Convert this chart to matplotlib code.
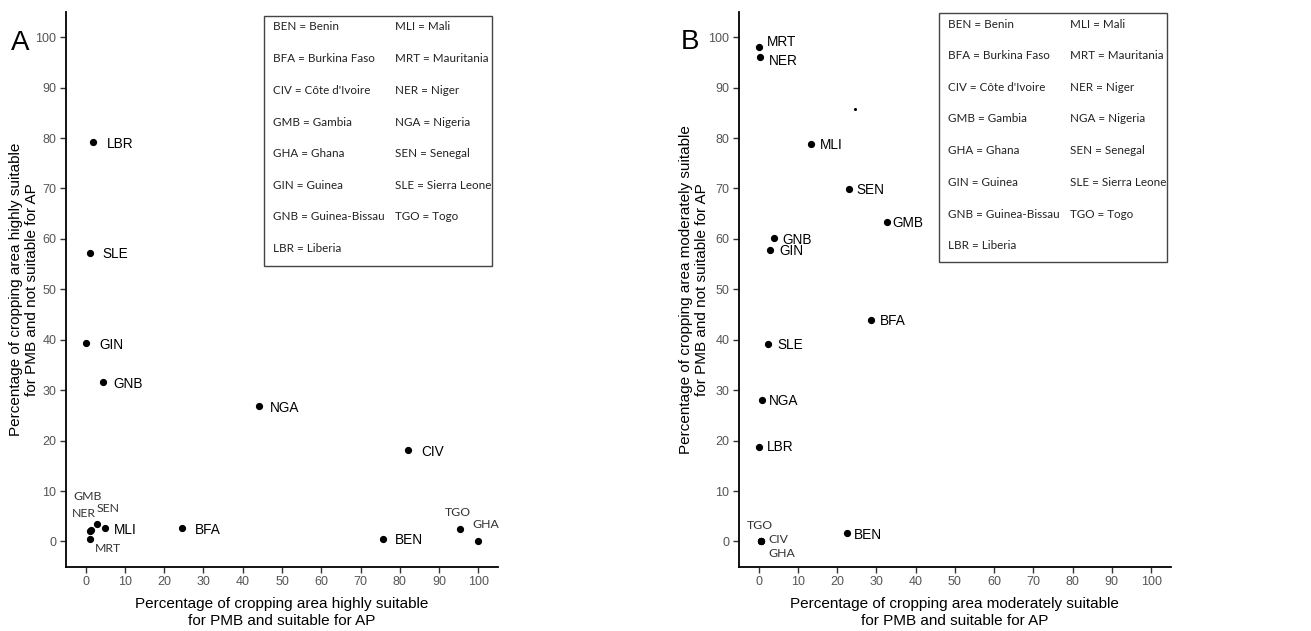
import numpy as np
import matplotlib
matplotlib.use('Agg')
import matplotlib.pyplot as plt

# ---- data ----
codes_a = ["LBR", "SLE", "GIN", "GNB", "NGA", "CIV", "BFA", "BEN", "TGO", "GHA",
           "GMB", "NER", "SEN", "MLI", "MRT"]
x_a = [2.0, 1.0, 0.1, 4.3, 44.2, 82.0, 24.6, 75.7, 95.2, 100.0, 1.3, 1.1, 3.0, 5.0, 1.0]
y_a = [79.2, 57.3, 39.3, 31.6, 26.8, 18.1, 2.6, 0.5, 2.4, 0.0, 2.3, 2.0, 3.4, 2.6, 0.5]

codes_b = ["MRT", "NER", "MLI", "SEN", "GMB", "GNB", "GIN", "BFA", "SLE", "NGA",
           "LBR", "BEN", "TGO", "CIV", "GHA"]
x_b = [0.0, 0.4, 13.4, 23.0, 32.7, 4.0, 3.0, 28.7, 2.5, 0.8, 0.0, 22.4, 0.6, 0.6, 0.6]
y_b = [98.0, 96.0, 78.8, 69.9, 63.4, 60.1, 57.9, 44.0, 39.2, 28.0, 18.8, 1.6, 0.1, 0.1, 0.1]
stray_b = (24.5, 85.8)

key_col1 = ["BEN = Benin", "BFA = Burkina Faso", "CIV = Côte d'Ivoire", "GMB = Gambia",
            "GHA = Ghana", "GIN = Guinea", "GNB = Guinea-Bissau", "LBR = Liberia"]
key_col2 = ["MLI = Mali", "MRT = Mauritania", "NER = Niger", "NGA = Nigeria",
            "SEN = Senegal", "SLE = Sierra Leone", "TGO = Togo"]

xlab_a = "Percentage of cropping area highly suitable\nfor PMB and suitable for AP"
ylab_a = "Percentage of cropping area highly suitable\nfor PMB and not suitable for AP"
xlab_b = "Percentage of cropping area moderately suitable\nfor PMB and suitable for AP"
ylab_b = "Percentage of cropping area moderately suitable\nfor PMB and not suitable for AP"

# label offsets in pixels (dx to left edge, dy up) and whether a "pasted" font is used
off_a = {"LBR": (13, -1.7, 0), "SLE": (12.4, -1, 0), "GIN": (13, -1.3, 0), "GNB": (11, -1.6, 0),
         "NGA": (11, -1.7, 0), "CIV": (13.4, -1.7, 0), "BFA": (12.7, -1.3, 0), "BEN": (11.6, -1.4, 0),
         "TGO": (-14.3, 16.6, 1), "GHA": (-6, 16.7, 1), "GMB": (-17.3, 33.3, 1), "NER": (-17.6, 17.6, 1),
         "SEN": (-1, 16.2, 1), "MLI": (8.3, -1.4, 0), "MRT": (5.8, -9.1, 1)}
off_b = {"MRT": (8.4, 5.1, 0), "NER": (9.1, -4.1, 0), "MLI": (9.1, -1.2, 0), "SEN": (7.4, -0.6, 0),
         "GMB": (5.6, -1.2, 0), "GNB": (8.3, -1.1, 0), "GIN": (8.6, -1.4, 0), "BFA": (8.3, -1.2, 0),
         "SLE": (8.6, -1.3, 0), "NGA": (7.3, -0.7, 0), "LBR": (8, -0.5, 0), "BEN": (7.4, -1.4, 0),
         "TGO": (-13.7, 15.2, 1), "CIV": (7.6, 1.9, 1), "GHA": (7.3, -12.8, 1)}

ARIAL = "Liberation Sans"
CAL = "Lato"

fig = plt.figure(figsize=(13.11, 6.31), dpi=100)
ax_a = fig.add_axes([66 / 1311, 1 - 566.7 / 631, 432 / 1311, 554.7 / 631])
ax_b = fig.add_axes([739 / 1311, 1 - 566.7 / 631, 431.7 / 1311, 554.7 / 631])


def draw(ax, codes, xs, ys, offs, xlab, ylab, box, rows_y, col_x, ylab_x):
    ax.plot(xs, ys, 'o', color='black', ms=4.2, zorder=3)
    for c, x, y in zip(codes, xs, ys):
        dx, dy, alt = offs[c]
        ax.annotate(c, (x, y), xytext=(dx, dy), textcoords='offset pixels',
                    ha='left', va='center',
                    fontfamily=CAL if alt else ARIAL,
                    fontsize=8.8 if alt else 9.8,
                    color='#333333' if alt else 'black')
    ax.set_xlim(-5, 105)
    ax.set_ylim(-5, 105)
    ax.set_xticks(np.arange(0, 101, 10))
    ax.set_yticks(np.arange(0, 101, 10))
    for s in ['top', 'right']:
        ax.spines[s].set_visible(False)
    for s in ['left', 'bottom']:
        ax.spines[s].set_linewidth(1.3)
    ax.tick_params(direction='out', length=4, width=1, colors='#333333', labelsize=9,
                   labelcolor='#555555', pad=3)
    for t in ax.get_xticklabels() + ax.get_yticklabels():
        t.set_fontfamily(ARIAL)
    ax.set_xlabel(xlab, fontfamily=ARIAL, fontsize=11, labelpad=6, linespacing=1.25)
    ax.set_ylabel(ylab, fontfamily=ARIAL, fontsize=11, linespacing=1.2)
    ax.yaxis.set_label_coords(ylab_x, 0.5)
    # country key box
    x0, y0, x1, y1 = box
    fig.patches.append(plt.Rectangle((x0 / 1311, 1 - y1 / 631), (x1 - x0) / 1311, (y1 - y0) / 631,
                                     transform=fig.transFigure, fill=False, edgecolor='#444444',
                                     linewidth=1.0))
    for col, cx in zip([key_col1, key_col2], col_x):
        for txt, ry in zip(col, rows_y):
            fig.text(cx / 1311, 1 - ry / 631, txt, ha='left', va='center',
                     fontfamily=CAL, fontsize=8.4, color='#222222')
    return ax


rows_a = [26.7, 59, 90.3, 122, 153.7, 185.3, 217, 248.7]
rows_b = [24, 55.7, 87.3, 119, 150.7, 182.3, 214, 245.7]
draw(ax_a, codes_a, x_a, y_a, off_a, xlab_a, ylab_a, (264, 15.7, 492.3, 265.7), rows_a, (272.7, 395), -0.063)
draw(ax_b, codes_b, x_b, y_b, off_b, xlab_b, ylab_b, (939, 12.7, 1167.3, 262.3), rows_b, (947.7, 1070), -0.069)
ax_b.plot([stray_b[0]], [stray_b[1]], 'o', color='black', ms=1.2)

fig.text(20 / 1311, 1 - 42.7 / 631, "A", ha='center', va='center', fontfamily=ARIAL, fontsize=20)
fig.text(690 / 1311, 1 - 42 / 631, "B", ha='center', va='center', fontfamily=ARIAL, fontsize=20)

fig.savefig('out.png', dpi=100)
print("plot success!")
